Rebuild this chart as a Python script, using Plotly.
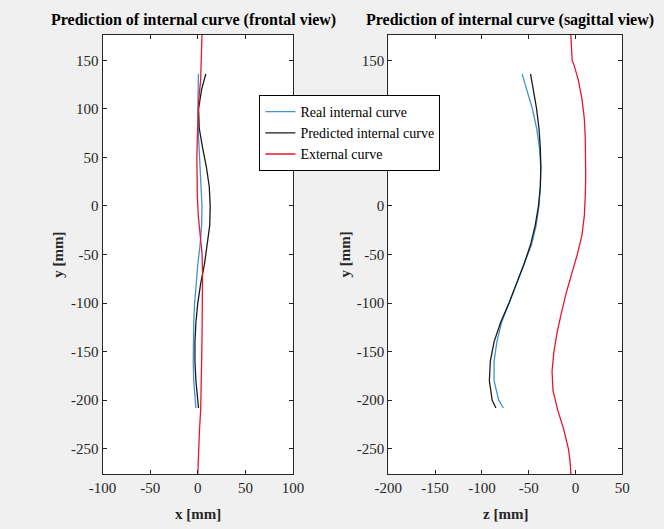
import plotly.graph_objects as go

# ---------------- data ----------------
y_int = [136, 120, 100, 80, 60, 40, 20, 0, -20, -40, -60, -80, -100, -120, -140, -160, -180, -200, -208]

# frontal view (x)
real_x = [0.7, 0.3, 0.0, 0.3, 1.2, 2.4, 3.6, 4.4, 4.0, 2.4, 0.0, -2.0, -3.3, -4.3, -4.8, -4.8, -4.3, -3.0, -2.0]
pred_x = [8.4, 4.0, 0.8, 1.5, 5.0, 9.0, 12.0, 13.0, 12.5, 10.0, 7.0, 3.0, 0.0, -2.0, -3.0, -3.0, -2.0, 0.0, 0.7]

y_ext_front = [177, 150, 130, 110, 90, 70, 50, 30, 10, -10, -30, -50, -70, -100, -130, -160, -190, -210, -230, -250, -276]
ext_x = [4.4, 3.8, 3.0, 1.0, 0.0, -0.5, -1.0, -1.0, -0.5, 0.5, 2.5, 4.5, 5.0, 5.0, 4.5, 4.0, 3.5, 3.0, 1.8, 0.8, 0.0]

# sagittal view (z)
real_z = [-57, -52, -46, -41.5, -38.5, -37, -37.5, -39, -42, -47, -55, -63, -71, -79, -84, -87, -87, -82, -77]
pred_z = [-48, -45, -41.5, -39, -37.5, -37, -37.5, -39.5, -43, -48, -55, -63, -71, -80, -87, -91, -92, -89, -85]

y_ext_sag = [177, 160, 150, 145, 130, 110, 90, 70, 50, 30, 10, -10, -30, -50, -70, -90, -110, -130, -150, -170, -190, -210, -230, -250, -265, -276]
ext_z = [-5, -4.5, -3.5, -1.5, 3, 7, 9.5, 10.5, 11, 11, 10.5, 9.5, 7, 2, -4, -10, -15, -19.5, -23, -25, -24, -19, -12.5, -7.5, -5.5, -5]

names = ["Real internal curve", "Predicted internal curve", "External curve"]
colors = ["#3f93cf", "#1a1a1a", "#e8162b"]

x_ticks = [-100, -50, 0, 50, 100]
z_ticks = [-200, -150, -100, -50, 0, 50]
y_ticks = [-250, -200, -150, -100, -50, 0, 50, 100, 150]

titles = ["Prediction of internal curve (frontal view)", "Prediction of internal curve (sagittal view)"]
xlabels = ["x [mm]", "z [mm]"]
ylabel = "y [mm]"

# ---------------- figure ----------------
W, H = 664, 529
FONT = "Liberation Serif, Times New Roman, serif"
AX = "#262626"

fig = go.Figure()
lw = 1.3
fig.add_trace(go.Scatter(x=real_x, y=y_int, mode="lines", name=names[0], line=dict(color=colors[0], width=lw), xaxis="x", yaxis="y"))
fig.add_trace(go.Scatter(x=pred_x, y=y_int, mode="lines", name=names[1], line=dict(color=colors[1], width=lw), xaxis="x", yaxis="y"))
fig.add_trace(go.Scatter(x=ext_x, y=y_ext_front, mode="lines", name=names[2], line=dict(color=colors[2], width=lw), xaxis="x", yaxis="y"))
fig.add_trace(go.Scatter(x=real_z, y=y_int, mode="lines", showlegend=False, line=dict(color=colors[0], width=lw), xaxis="x2", yaxis="y2"))
fig.add_trace(go.Scatter(x=pred_z, y=y_int, mode="lines", showlegend=False, line=dict(color=colors[1], width=lw), xaxis="x2", yaxis="y2"))
fig.add_trace(go.Scatter(x=ext_z, y=y_ext_sag, mode="lines", showlegend=False, line=dict(color=colors[2], width=lw), xaxis="x2", yaxis="y2"))

def px_x(p):
    return p / W

def px_y(p):
    return 1 - p / H

L1, R1 = 92, 290
L2, R2 = 389, 632
T, B = 35, 474

common = dict(showline=True, linecolor=AX, linewidth=1, mirror="allticks", ticks="inside",
              ticklen=4, tickcolor=AX, showgrid=False, zeroline=False,
              tickfont=dict(family=FONT, size=15, color=AX))

def tt(vals):
    return [str(v) for v in vals]

fig.update_layout(
    width=W, height=H,
    margin=dict(l=0, r=0, t=0, b=0),
    paper_bgcolor="#f0f0f0", plot_bgcolor="white",
    font=dict(family=FONT, size=14, color=AX),
    xaxis=dict(domain=[px_x(L1), px_x(R1)], range=[-100, 100], tickvals=x_ticks, ticktext=tt(x_ticks), anchor="y", **common),
    yaxis=dict(domain=[px_y(B), px_y(T)], range=[-276, 176], tickvals=y_ticks, ticktext=tt(y_ticks), anchor="x", **common),
    xaxis2=dict(domain=[px_x(L2), px_x(R2)], range=[-200, 50], tickvals=z_ticks, ticktext=tt(z_ticks), anchor="y2", **common),
    yaxis2=dict(domain=[px_y(B), px_y(T)], range=[-276, 176], tickvals=y_ticks, ticktext=tt(y_ticks), anchor="x2", **common),
    showlegend=True,
    legend=dict(x=px_x(255), y=px_y(95), xanchor="left", yanchor="top",
                bgcolor="white", bordercolor="#000000", borderwidth=1,
                font=dict(family=FONT, size=14, color="#000000"),
                tracegroupgap=0, itemwidth=30),
)

ann = []
title_cx = [187, 515]
for i, (l, r) in enumerate([(L1, R1), (L2, R2)]):
    cx = px_x((l + r) / 2)
    ann.append(dict(text="<b>" + titles[i] + "</b>", x=px_x(title_cx[i]), y=px_y(20), xref="paper", yref="paper",
                    showarrow=False, font=dict(family=FONT, size=16, color="#000000"),
                    xanchor="center", yanchor="middle"))
    ann.append(dict(text="<b>" + xlabels[i] + "</b>", x=cx, y=px_y(514), xref="paper", yref="paper",
                    showarrow=False, font=dict(family=FONT, size=15, color="#262626"),
                    xanchor="center", yanchor="middle"))
for lx in [45, 343]:
    ann.append(dict(text="<b>" + ylabel + "</b>", x=px_x(lx), y=px_y((T + B) / 2), xref="paper", yref="paper",
                    showarrow=False, textangle=-90, font=dict(family=FONT, size=15, color="#262626"),
                    xanchor="center", yanchor="middle"))
fig.update_layout(annotations=ann)

fig.write_html("out.html")
